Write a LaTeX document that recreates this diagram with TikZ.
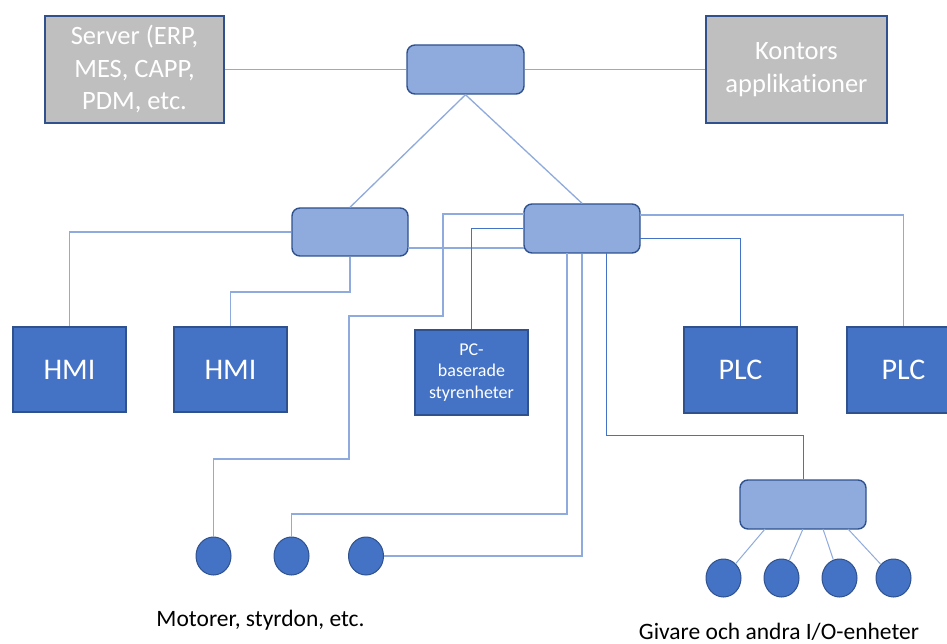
\documentclass[tikz,border=0pt]{standalone}
\usepackage{fontspec}
\setmainfont{Carlito}[Ligatures=NoCommon]
\usetikzlibrary{shapes.geometric}
\definecolor{boxblue}{HTML}{4472C4}
\definecolor{edgeblue}{HTML}{2F528F}
\definecolor{swfill}{HTML}{8FAADC}
\definecolor{linelight}{HTML}{8FAADC}
\definecolor{srvgray}{HTML}{BFBFBF}
\tikzset{
  srvbox/.style={draw=edgeblue, line width=1.4pt, fill=srvgray, text=white, inner sep=0pt,
    align=center, font=\fontsize{26.5}{32.5}\selectfont},
  switchbox/.style={draw=edgeblue, line width=1.4pt, fill=swfill, rounded corners=8pt, inner sep=0pt},
  devbox/.style={draw=edgeblue, line width=1.2pt, fill=boxblue, text=white, inner sep=0pt,
    minimum width=113pt, minimum height=85pt, align=center, font=\fontsize{30}{36}\selectfont},
  devdot/.style={ellipse, draw=edgeblue, line width=1pt, fill=boxblue, inner sep=0pt,
    minimum width=35pt, minimum height=38pt},
  wire/.style={draw=linelight, line width=1.3pt},
  darkwire/.style={draw=boxblue, line width=1pt},
  caption/.style={text=black, inner sep=0pt, font=\fontsize{23.5}{28}\selectfont}
}
\begin{document}
\begin{tikzpicture}[x=1pt,y=-1pt]
\clip (0,0) rectangle (947,644);
\fill[white] (0,0) rectangle (947,644);

% top row
\node[srvbox, minimum width=179pt, minimum height=107pt] (server) at (134.5,69.5) {Server (ERP,\\MES, CAPP,\\PDM, etc.};
\node[srvbox, minimum width=181pt, minimum height=107pt] (kontor) at (796.5,69.5) {Kontors\\applikationer};
\node[switchbox, minimum width=117pt, minimum height=49pt] (sw1) at (465.5,69.5) {};

% middle switches
\node[switchbox, minimum width=116pt, minimum height=48pt] (sw2) at (350,232) {};
\node[switchbox, minimum width=116pt, minimum height=49pt] (sw3) at (582,228.5) {};
\node[switchbox, minimum width=126pt, minimum height=49pt] (sw4) at (803,504.5) {};

% devices
\node[devbox] (hmi1) at (69.5,369.5) {HMI};
\node[devbox] (hmi2) at (230.5,369.5) {HMI};
\node[devbox, font=\fontsize{18}{22}\selectfont] (pc) at (471.5,372.5) {\raisebox{-3pt}{\begin{tabular}{@{}c@{}}PC-\\[-1pt]baserade\\styrenheter\end{tabular}}};
\node[devbox, minimum height=86pt] (plc1) at (740.5,370) {PLC};
\node[devbox, minimum height=86pt] (plc2) at (903.5,370) {PLC};

% field devices
\node[devdot] (m1) at (213.5,556) {};
\node[devdot] (m2) at (291.5,556) {};
\node[devdot] (m3) at (366,556) {};
\node[devdot] (g1) at (723.5,578) {};
\node[devdot] (g2) at (781.5,578) {};
\node[devdot] (g3) at (839.5,578) {};
\node[devdot] (g4) at (893.5,578) {};

\node[caption] (motlabel) at (260.5,620) {Motorer, styrdon, etc.};
\node[caption] (givlabel) at (779,632) {Givare och andra I/O-enheter};

% helper coordinates
\coordinate (s2r) at (408,248);
\coordinate (s3l) at (524,248);
\coordinate (s3a) at (524,214);
\coordinate (a1) at (443,214);
\coordinate (a2) at (443,316);
\coordinate (a3) at (349,316);
\coordinate (a4) at (349,459);
\coordinate (a5) at (213.5,459);
\coordinate (s2b) at (350,292);
\coordinate (s3r1) at (640,215);
\coordinate (s3r2) at (640,239);
\coordinate (s3b1) at (567,253);
\coordinate (b1) at (567,514);
\coordinate (b2) at (291.5,514);
\coordinate (b3) at (582,556);
\coordinate (s3b3) at (606,253);
\coordinate (c1) at (606,435);
\coordinate (c2) at (803,435);
\coordinate (d1) at (765,529);
\coordinate (d2) at (803,529);
\coordinate (d3) at (823,529);
\coordinate (d4) at (848,529);

% connectors
\draw[wire] (server.east) -- (sw1.west);
\draw[wire] (sw1.east) -- (kontor.west);
\draw[wire] (sw1.south) -- (sw2.north);
\draw[wire] (sw1.south) -- (sw3.north);
\draw[wire] (sw2.west) -| (hmi1.north);
\draw[wire] (sw2.south) -- (s2b) -| (hmi2.north);
\draw[wire] (s2r) -- (s3l);
\draw[wire] (s3a) -- (a1) -- (a2) -- (a3) -- (a4) -- (a5) -- (m1.north);
\draw[darkwire] (sw3.west) -| (pc.north);
\draw[wire] (s3r1) -| (plc2.north);
\draw[darkwire] (s3r2) -| (plc1.north);
\draw[wire] (s3b1) -- (b1) -- (b2) -- (m2.north);
\draw[wire] (sw3.south) -- (b3) -- (m3.east);
\draw[darkwire] (s3b3) -- (c1) -- (c2) -- (sw4.north);
\draw[wire, line width=1pt] (d1) -- (g1);
\draw[wire, line width=1pt] (d2) -- (g2);
\draw[wire, line width=1pt] (d3) -- (g3);
\draw[wire, line width=1pt] (d4) -- (g4);
\end{tikzpicture}
\end{document}
